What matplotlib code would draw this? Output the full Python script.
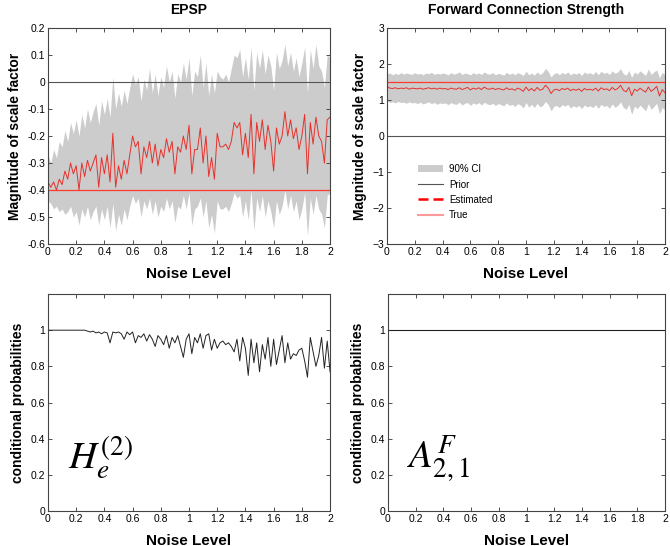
import numpy as np
import matplotlib.pyplot as plt
from matplotlib.patches import Patch
from matplotlib.lines import Line2D

plt.rcParams['font.family'] = ['Liberation Sans', 'DejaVu Sans']
plt.rcParams['mathtext.fontset'] = 'stix'

#%% data (noise level 0..2, step 0.02)
noise = np.linspace(0, 2, 101)

epsp_est = [-0.37, -0.39, -0.37, -0.40, -0.36, -0.38, -0.33, -0.36, -0.30, -0.34,
            -0.31, -0.40, -0.30, -0.35, -0.29, -0.33, -0.30, -0.27, -0.39, -0.28,
            -0.34, -0.27, -0.37, -0.19, -0.39, -0.31, -0.36, -0.29, -0.34, -0.27,
            -0.20, -0.24, -0.22, -0.34, -0.24, -0.28, -0.22, -0.30, -0.23, -0.31,
            -0.25, -0.28, -0.21, -0.26, -0.22, -0.34, -0.24, -0.26, -0.20, -0.25,
            -0.16, -0.34, -0.25, -0.25, -0.17, -0.30, -0.20, -0.35, -0.28, -0.36,
            -0.19, -0.24, -0.24, -0.23, -0.25, -0.22, -0.15, -0.17, -0.15, -0.27,
            -0.19, -0.28, -0.12, -0.34, -0.15, -0.22, -0.14, -0.25, -0.16, -0.22,
            -0.33, -0.17, -0.23, -0.20, -0.11, -0.20, -0.14, -0.21, -0.17, -0.25,
            -0.20, -0.12, -0.34, -0.15, -0.23, -0.13, -0.20, -0.22, -0.30, -0.14,
            -0.13]
epsp_hi = [-0.27, -0.30, -0.25, -0.28, -0.22, -0.24, -0.18, -0.22, -0.15, -0.19,
           -0.14, -0.20, -0.12, -0.17, -0.10, -0.15, -0.11, -0.08, -0.16, -0.07,
           -0.12, -0.06, -0.13, 0.02, -0.10, -0.04, -0.09, -0.03, -0.08, -0.02,
           0.03, -0.01, 0.02, -0.07, 0.01, -0.03, 0.05, -0.04, 0.03, -0.05,
           0.02, -0.02, 0.06, 0.00, 0.04, -0.06, 0.03, 0.00, 0.07, 0.01,
           0.09, -0.05, 0.04, 0.02, 0.10, -0.02, 0.07, -0.05, 0.03, -0.04,
           0.04, 0.02, 0.01, 0.03, 0.00, 0.05, 0.10, 0.09, 0.12, 0.02,
           0.09, 0.01, 0.13, -0.03, 0.11, 0.05, 0.12, 0.03, 0.10, 0.06,
           -0.03, 0.11, 0.05, 0.08, 0.14, 0.06, 0.11, 0.04, 0.09, 0.02,
           0.07, 0.13, -0.04, 0.12, 0.05, 0.14, 0.06, 0.04, -0.02, 0.10,
           0.09]
epsp_lo = [-0.44, -0.45, -0.47, -0.46, -0.48, -0.47, -0.49, -0.48, -0.46, -0.50,
           -0.48, -0.53, -0.47, -0.50, -0.46, -0.51, -0.48, -0.46, -0.53, -0.47,
           -0.51, -0.46, -0.54, -0.45, -0.55, -0.49, -0.53, -0.47, -0.51, -0.46,
           -0.42, -0.45, -0.43, -0.50, -0.44, -0.47, -0.43, -0.49, -0.44, -0.50,
           -0.46, -0.48, -0.43, -0.47, -0.44, -0.52, -0.46, -0.47, -0.42, -0.47,
           -0.41, -0.53, -0.47, -0.46, -0.43, -0.50, -0.44, -0.54, -0.49, -0.56,
           -0.44, -0.47, -0.47, -0.46, -0.48, -0.45, -0.41, -0.43, -0.42, -0.50,
           -0.44, -0.51, -0.40, -0.55, -0.43, -0.48, -0.42, -0.50, -0.44, -0.48,
           -0.54, -0.44, -0.49, -0.46, -0.40, -0.47, -0.42, -0.48, -0.44, -0.51,
           -0.47, -0.41, -0.57, -0.43, -0.49, -0.42, -0.47, -0.49, -0.54, -0.42,
           -0.41]
epsp_prior, epsp_true = 0.0, -0.4

fwd_est = [1.38, 1.33, 1.32, 1.34, 1.31, 1.33, 1.32, 1.34, 1.30, 1.33,
           1.32, 1.31, 1.33, 1.30, 1.32, 1.34, 1.31, 1.33, 1.30, 1.33,
           1.31, 1.32, 1.29, 1.33, 1.31, 1.30, 1.34, 1.29, 1.32, 1.35,
           1.28, 1.33, 1.30, 1.34, 1.29, 1.36, 1.31, 1.30, 1.33, 1.29,
           1.32, 1.30, 1.28, 1.34, 1.29, 1.31, 1.27, 1.33, 1.30, 1.24,
           1.36, 1.26, 1.32, 1.25, 1.35, 1.27, 1.30, 1.41, 1.33, 1.18,
           1.28, 1.30, 1.26, 1.32, 1.29, 1.33, 1.26, 1.30, 1.27, 1.31,
           1.24, 1.32, 1.28, 1.30, 1.27, 1.33, 1.25, 1.34, 1.29, 1.31,
           1.26, 1.35, 1.28, 1.32, 1.41, 1.27, 1.23, 1.35, 1.12, 1.30,
           1.25, 1.33, 1.27, 1.22, 1.36, 1.24, 1.30, 1.38, 1.11, 1.29,
           1.20]
fwd_hi = [1.73, 1.75, 1.70, 1.74, 1.71, 1.76, 1.72, 1.75, 1.73, 1.71,
          1.76, 1.72, 1.74, 1.70, 1.75, 1.73, 1.77, 1.71, 1.74, 1.72,
          1.75, 1.73, 1.70, 1.76, 1.72, 1.74, 1.78, 1.71, 1.75, 1.73,
          1.70, 1.76, 1.72, 1.75, 1.71, 1.78, 1.73, 1.72, 1.76, 1.70,
          1.74, 1.72, 1.69, 1.77, 1.71, 1.75, 1.70, 1.76, 1.73, 1.68,
          1.80, 1.70, 1.75, 1.69, 1.78, 1.71, 1.76, 1.88, 1.79, 1.64,
          1.73, 1.76, 1.70, 1.77, 1.72, 1.78, 1.70, 1.75, 1.72, 1.76,
          1.68, 1.78, 1.73, 1.76, 1.71, 1.79, 1.70, 1.80, 1.74, 1.77,
          1.71, 1.81, 1.74, 1.78, 1.87, 1.73, 1.69, 1.82, 1.63, 1.78,
          1.72, 1.81, 1.75, 1.68, 1.86, 1.71, 1.78, 1.84, 1.62, 1.77,
          1.70]
fwd_lo = [0.98, 0.93, 0.95, 0.92, 0.96, 0.93, 0.94, 0.91, 0.95, 0.92,
          0.93, 0.90, 0.94, 0.89, 0.92, 0.95, 0.90, 0.93, 0.88, 0.92,
          0.90, 0.92, 0.87, 0.93, 0.89, 0.88, 0.94, 0.86, 0.91, 0.93,
          0.85, 0.92, 0.88, 0.93, 0.86, 0.94, 0.89, 0.87, 0.91, 0.85,
          0.90, 0.87, 0.84, 0.92, 0.85, 0.88, 0.82, 0.90, 0.86, 0.78,
          0.93, 0.80, 0.88, 0.79, 0.91, 0.81, 0.85, 0.96, 0.87, 0.70,
          0.82, 0.85, 0.79, 0.87, 0.83, 0.88, 0.78, 0.84, 0.80, 0.85,
          0.76, 0.86, 0.81, 0.84, 0.79, 0.87, 0.77, 0.88, 0.82, 0.85,
          0.77, 0.89, 0.80, 0.85, 0.95, 0.79, 0.74, 0.88, 0.60, 0.83,
          0.76, 0.86, 0.78, 0.70, 0.90, 0.74, 0.82, 0.91, 0.62, 0.79,
          0.72]
fwd_prior, fwd_true = 0.0, 1.5

cp_epsp = [1.0, 1.0, 1.0, 1.0, 1.0, 1.0, 1.0, 1.0, 1.0, 1.0,
           1.0, 1.0, 1.0, 1.0, 0.995, 0.99, 0.995, 0.985, 0.99, 0.98,
           0.99, 0.985, 0.93, 0.99, 0.985, 0.99, 0.98, 0.95, 0.99, 0.975,
           0.99, 0.93, 0.97, 0.96, 0.98, 0.94, 0.975, 0.95, 0.91, 0.97,
           0.95, 0.92, 0.97, 0.90, 0.96, 0.93, 0.97, 0.91, 0.85, 0.95,
           0.98, 0.87, 0.96, 0.93, 0.98, 0.90, 0.97, 0.98, 0.89, 0.95,
           0.90, 0.93, 0.94, 0.92, 0.93, 0.91, 0.88, 0.95, 0.83, 0.96,
           0.90, 0.75, 0.95, 0.82, 0.93, 0.77, 0.92, 0.84, 0.96, 0.80,
           0.95, 0.81, 0.89, 0.97, 0.82, 0.93, 0.84, 0.87, 0.86, 0.89,
           0.90, 0.83, 0.74, 0.96, 0.88, 0.80, 0.86, 0.96, 0.79, 0.94,
           0.77]
cp_fwd_x = [0, 2]
cp_fwd = [1.0, 1.0]

#%% figure
fig = plt.figure(figsize=(6.7, 5.46), dpi=100)
ax1 = fig.add_axes([0.0716, 0.5531, 0.421, 0.3956])
ax2 = fig.add_axes([0.5776, 0.5531, 0.415, 0.3956])
ax3 = fig.add_axes([0.0716, 0.0641, 0.421, 0.3974])
ax4 = fig.add_axes([0.5791, 0.0641, 0.4135, 0.3974])

ci_col = '#cccccc'
est_col = '#e8302a'
true_col = '#ff3b30'
prior_col = '#555555'

def style(ax):
    ax.set_xlim(0, 2)
    ax.set_xticks(np.arange(0, 2.01, 0.2))
    ax.set_xticklabels(['0', '0.2', '0.4', '0.6', '0.8', '1', '1.2', '1.4', '1.6', '1.8', '2'])
    ax.tick_params(direction='in', top=True, right=True, labelsize=7.5, length=3,
                   width=0.6, color='#333333', pad=2)
    for s in ax.spines.values():
        s.set_linewidth(0.8)
        s.set_color('#444444')
    ax.set_xlabel('Noise Level', fontsize=11, fontweight='bold', labelpad=7)

# EPSP
ax1.fill_between(noise, epsp_lo, epsp_hi, color=ci_col, lw=0)
ax1.axhline(epsp_prior, color=prior_col, lw=0.8)
ax1.axhline(epsp_true, color=true_col, lw=0.9)
ax1.plot(noise, epsp_est, color=est_col, lw=0.7)
ax1.set_ylim(-0.6, 0.2)
ax1.set_yticks(np.arange(-0.6, 0.21, 0.1))
ax1.set_yticklabels(['-0.6', '-0.5', '-0.4', '-0.3', '-0.2', '-0.1', '0', '0.1', '0.2'])
style(ax1)
ax1.set_ylabel('Magnitude of scale factor', fontsize=10, fontweight='bold')
ax1.set_title('EPSP', fontsize=10, fontweight='bold', pad=10)

# Forward connection
ax2.fill_between(noise, fwd_lo, fwd_hi, color=ci_col, lw=0)
ax2.axhline(fwd_prior, color=prior_col, lw=0.8)
ax2.axhline(fwd_true, color=true_col, lw=0.9)
ax2.plot(noise, fwd_est, color=est_col, lw=0.7)
ax2.set_ylim(-3, 3)
ax2.set_yticks(range(-3, 4))
style(ax2)
ax2.set_ylabel('Magnitude of scale factor', fontsize=10, fontweight='bold')
ax2.set_title('Forward Connection Strength', fontsize=10, fontweight='bold', pad=10)
handles = [Patch(color=ci_col, lw=0),
           Line2D([], [], color=prior_col, lw=0.8),
           Line2D([], [], color='#ff0000', lw=1.8, ls='--', dashes=(4, 2)),
           Line2D([], [], color='#ff9a9a', lw=1.5)]
ax2.legend(handles, ['90% CI', 'Prior', 'Estimated', 'True'], loc='upper left',
           bbox_to_anchor=(0.08, 0.41), frameon=False, fontsize=7,
           handlelength=2.6, labelspacing=0.55, handletextpad=0.6)

# conditional probabilities
ax3.plot(noise, cp_epsp, color='#222222', lw=0.7)
ax3.set_ylim(0, 1.2)
ax3.set_yticks([0, 0.2, 0.4, 0.6, 0.8, 1])
ax3.set_yticklabels(['0', '0.2', '0.4', '0.6', '0.8', '1'])
style(ax3)
ax3.set_ylabel('conditional probabilities', fontsize=10, fontweight='bold')
ax3.text(0.07, 0.19, r'$H_e^{(2)}$', transform=ax3.transAxes, fontsize=28)

ax4.plot(cp_fwd_x, cp_fwd, color='#222222', lw=0.8)
ax4.set_ylim(0, 1.2)
ax4.set_yticks([0, 0.2, 0.4, 0.6, 0.8, 1])
ax4.set_yticklabels(['0', '0.2', '0.4', '0.6', '0.8', '1'])
style(ax4)
ax4.set_ylabel('conditional probabilities', fontsize=10, fontweight='bold')
ax4.text(0.07, 0.2, r'$A_{2,1}^{F}$', transform=ax4.transAxes, fontsize=28)

fig.savefig('out.png', dpi=100)
